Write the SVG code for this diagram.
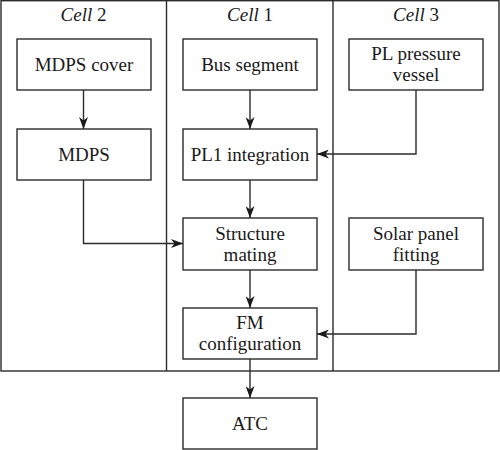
<svg xmlns="http://www.w3.org/2000/svg" width="500" height="450" viewBox="0 0 500 450">
<style>
.frame{fill:none;stroke:#2b2b2b;stroke-width:1.4}
.box{fill:#fff;stroke:#2b2b2b;stroke-width:1.4}
.t{font-family:'Liberation Serif','Times New Roman','DejaVu Serif',serif;font-size:19px;fill:#1a1a1a;text-anchor:middle}
.c{stroke:#2b2b2b;stroke-width:1.4;fill:none;marker-end:url(#ah)}
</style>
<defs>
<marker id="ah" viewBox="0 0 12 9" refX="12" refY="4.5" markerWidth="12" markerHeight="9" markerUnits="userSpaceOnUse" orient="auto">
<path d="M0,0 L12,4.5 L0,9 L3.5,4.5 z" fill="#1a1a1a"/>
</marker>
</defs>
<g id="cells">
<rect class="frame" x="1" y="0.7" width="498" height="370.3"/>
<line class="frame" x1="166.5" y1="0" x2="166.5" y2="371"/>
<line class="frame" x1="333" y1="0" x2="333" y2="371"/>
<text class="t" x="83.5" y="21" font-family="Liberation Serif, serif"><tspan font-style="italic">Cell</tspan> 2</text>
<text class="t" x="250" y="21" font-family="Liberation Serif, serif"><tspan font-style="italic">Cell</tspan> 1</text>
<text class="t" x="416" y="21" font-family="Liberation Serif, serif"><tspan font-style="italic">Cell</tspan> 3</text>
</g>
<g id="mdps-cover"><rect class="box" x="17" y="39" width="134" height="51"/><text class="t" x="84" y="71">MDPS cover</text></g>
<g id="mdps"><rect class="box" x="17" y="129" width="134" height="51"/><text class="t" x="84" y="161">MDPS</text></g>
<g id="bus-segment"><rect class="box" x="183" y="39" width="134" height="51"/><text class="t" x="250" y="71">Bus segment</text></g>
<g id="pl1-integration"><rect class="box" x="183" y="129" width="134" height="51"/><text class="t" x="250" y="161">PL1 integration</text></g>
<g id="structure-mating"><rect class="box" x="183" y="218" width="134" height="52"/><text class="t" x="250" y="239.5">Structure</text><text class="t" x="250" y="261">mating</text></g>
<g id="fm-configuration"><rect class="box" x="183" y="308" width="134" height="51"/><text class="t" x="250" y="328.5">FM</text><text class="t" x="250" y="350">configuration</text></g>
<g id="atc"><rect class="box" x="183" y="398" width="134" height="51"/><text class="t" x="250" y="430">ATC</text></g>
<g id="pl-pressure-vessel"><rect class="box" x="349" y="39" width="134" height="51"/><text class="t" x="416" y="59.5">PL pressure</text><text class="t" x="416" y="81">vessel</text></g>
<g id="solar-panel-fitting"><rect class="box" x="349" y="218" width="134" height="52"/><text class="t" x="416" y="239.5">Solar panel</text><text class="t" x="416" y="261">fitting</text></g>
<g id="connectors">
<path class="c" d="M83.5,90 V129"/>
<path class="c" d="M83.5,180 V243.5 H183"/>
<path class="c" d="M250,90 V129"/>
<path class="c" d="M416,90 V154 H317"/>
<path class="c" d="M250,180 V218"/>
<path class="c" d="M250,270 V308"/>
<path class="c" d="M416,270 V334 H317"/>
<path class="c" d="M250,359 V398"/>
</g>
</svg>
